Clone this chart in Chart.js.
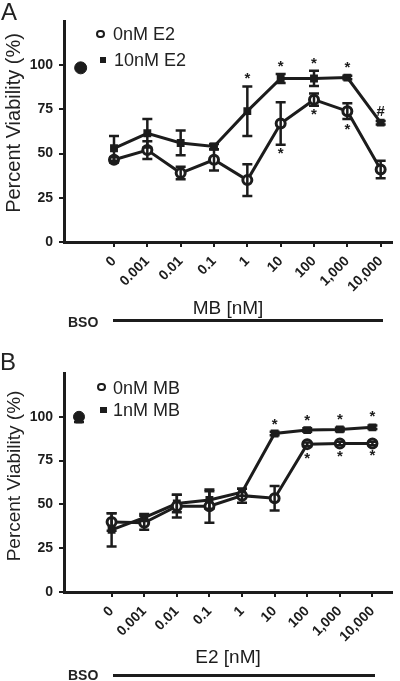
<!DOCTYPE html>
<html>
<head>
<meta charset="utf-8">
<script src="https://cdn.jsdelivr.net/npm/chart.js@4"></script>
<style>
  body { margin: 0; background: #fff; }
  #wrap { position: relative; width: 400px; height: 681px; font-family: "Liberation Sans", Arial, sans-serif; color: #222; }
  canvas { position: absolute; left: 0; }
  .lbl { position: absolute; white-space: nowrap; line-height: 1; }
  .ytitle { position: absolute; white-space: nowrap; line-height: 1; transform: translate(-50%, -50%) rotate(-90deg); }
  .dot { position: absolute; border: 2.5px solid #1c1c1c; border-radius: 50%; background: #fff; box-sizing: border-box; }
  .sq { position: absolute; background: #1c1c1c; }
  .bar { position: absolute; background: #1c1c1c; height: 3px; }
</style>
</head>
<body>
<div id="wrap">
  <canvas id="chartA" width="400" height="340" style="top:0"></canvas>
  <canvas id="chartB" width="400" height="341" style="top:340px"></canvas>

  <div class="lbl" style="left:1px;top:0px;font-size:24px">A</div>
  <div class="ytitle" style="left:13px;top:123px;font-size:20px">Percent Viability (%)</div>
  <div class="dot" style="left:96px;top:29.5px;width:8.5px;height:8.5px"></div>
  <div class="lbl" style="left:113px;top:25px;font-size:18px">0nM E2</div>
  <div class="sq" style="left:99.5px;top:56.5px;width:6.5px;height:6.5px"></div>
  <div class="lbl" style="left:114px;top:51px;font-size:18px">10nM E2</div>
  <div class="lbl" style="left:68px;top:315px;font-size:14px;font-weight:bold">BSO</div>
  <div class="bar" style="left:113px;top:319px;width:270px"></div>

  <div class="lbl" style="left:0px;top:350px;font-size:24px">B</div>
  <div class="ytitle" style="left:13px;top:476px;font-size:19px">Percent Viability (%)</div>
  <div class="dot" style="left:97px;top:382.5px;width:8.5px;height:8.5px"></div>
  <div class="lbl" style="left:113px;top:378.5px;font-size:18px">0nM MB</div>
  <div class="sq" style="left:100px;top:406.5px;width:6.5px;height:6.5px"></div>
  <div class="lbl" style="left:113px;top:400.5px;font-size:18px">1nM MB</div>
  <div class="lbl" style="left:68px;top:668px;font-size:14px;font-weight:bold">BSO</div>
  <div class="bar" style="left:113px;top:674px;width:262px"></div>
</div>

<script>
// doses on the x axis (same for both panels)
const doseLabels = ['0', '0.001', '0.01', '0.1', '1', '10', '100', '1,000', '10,000'];

// Panel A - MB dose response, +/- 10nM E2
const aNoE2 = [46.5, 52, 39, 46.5, 35, 67, 80.5, 74, 41];
const aNoE2Err = [1.5, 5, 3.5, 6, 9, 12, 3.5, 4.5, 5];
const aTenE2 = [53, 61.5, 56, 54, 74, 92.5, 92.5, 93, 67.5];
const aTenE2Err = [7, 8, 7, 1.5, 14, 2.5, 4.3, 1, 1];
const aBso = [98.5];
const aMarkX = [4, 5, 6, 7, 8, 5, 6, 7];
const aMarkY = [94, 100.6, 102.5, 100, 74.3, 51.2, 73.5, 64.8];
const aMarkText = ['*', '*', '*', '*', '#', '*', '*', '*'];

// Panel B - E2 dose response, +/- 1nM MB
const bNoMB = [40, 39.5, 49, 49, 55, 53.5, 84.4, 84.8, 84.8];
const bNoMBErr = [5, 4, 6.5, 9.5, 4, 7, 1, 1, 1];
const bOneMB = [35.5, 42.5, 50.5, 52.5, 57, 90.5, 92.4, 92.8, 94];
const bOneMBErr = [9.5, 2, 5, 5, 2, 1, 1, 1, 1];
const bBsoCircle = [100];
const bBsoSquare = [98.5];
const bMarkX = [5, 6, 7, 8, 6, 7, 8];
const bMarkY = [97.3, 99.6, 100.1, 101.5, 77.6, 78.5, 79.1];
const bMarkText = ['*', '*', '*', '*', '*', '*', '*'];

const ink = '#1c1c1c';
Chart.defaults.font.family = '"Liberation Sans", Arial, sans-serif';
Chart.defaults.color = ink;

// whiskers for datasets that carry an "errors" array
const errorBars = {
    id: 'errorBars',
    afterDatasetsDraw(chart) {
        const { ctx, scales: { x, y } } = chart;
        ctx.save();
        ctx.strokeStyle = ink;
        ctx.lineWidth = 2.5;
        chart.data.datasets.forEach(ds => {
            if (!ds.errors) return;
            ds.data.forEach((p, i) => {
                const e = ds.errors[i];
                const px = x.getPixelForValue(p.x);
                const top = y.getPixelForValue(p.y + e);
                const bot = y.getPixelForValue(p.y - e);
                ctx.beginPath();
                ctx.moveTo(px, top); ctx.lineTo(px, bot);
                ctx.moveTo(px - 5, top); ctx.lineTo(px + 5, top);
                ctx.moveTo(px - 5, bot); ctx.lineTo(px + 5, bot);
                ctx.stroke();
            });
        });
        ctx.restore();
    }
};

// significance marks (* and #)
const sigMarks = {
    id: 'sigMarks',
    afterDraw(chart, args, opts) {
        const { ctx, scales: { x, y } } = chart;
        ctx.save();
        ctx.fillStyle = ink;
        ctx.font = 'bold 15px "Liberation Sans", Arial, sans-serif';
        ctx.textAlign = 'center';
        ctx.textBaseline = 'alphabetic';
        opts.xs.forEach((v, i) => {
            const t = opts.texts[i];
            const m = ctx.measureText(t);
            const cy = y.getPixelForValue(opts.ys[i]);
            ctx.fillText(t, x.getPixelForValue(v), cy + (m.actualBoundingBoxAscent - m.actualBoundingBoxDescent) / 2);
        });
        ctx.restore();
    }
};

function points(vals) {
    return vals.map((v, i) => ({ x: i, y: v }));
}

function makePanel(id, p) {
    return new Chart(document.getElementById(id), {
        type: 'scatter',
        data: {
            datasets: [
                {
                    data: points(p.open),
                    errors: p.openErr,
                    showLine: true,
                    borderColor: ink,
                    borderWidth: 3,
                    pointStyle: 'circle',
                    pointRadius: 4.5,
                    pointBorderWidth: 3,
                    pointBorderColor: ink,
                    pointBackgroundColor: '#fff'
                },
                {
                    data: points(p.filled),
                    errors: p.filledErr,
                    showLine: true,
                    borderColor: ink,
                    borderWidth: 3,
                    pointStyle: 'rect',
                    pointRadius: 4.5,
                    pointBorderWidth: 1.5,
                    pointBorderColor: ink,
                    pointBackgroundColor: ink
                },
                ...p.bso
            ]
        },
        options: {
            responsive: false,
            animation: false,
            layout: { padding: { top: p.top, right: 8, left: 0, bottom: 0 } },
            plugins: {
                legend: { display: false },
                tooltip: { enabled: false },
                sigMarks: { xs: p.markX, ys: p.markY, texts: p.markText }
            },
            scales: {
                x: {
                    type: 'linear',
                    min: p.xMin,
                    max: p.xMax,
                    afterBuildTicks: s => { s.ticks = doseLabels.map((_, i) => ({ value: i })); },
                    afterFit: s => { s.height = p.xHeight; },
                    grid: { drawOnChartArea: false, drawTicks: true, tickLength: 5, color: ink, lineWidth: 2 },
                    border: { color: ink, width: 3 },
                    ticks: {
                        font: { size: 14, weight: 'bold' },
                        minRotation: 45,
                        maxRotation: 45,
                        padding: 6,
                        callback: v => doseLabels[v]
                    },
                    title: {
                        display: true,
                        text: p.xTitle,
                        font: { size: 19 },
                        padding: { top: 0, bottom: p.titlePad }
                    }
                },
                y: {
                    min: 0,
                    max: 125,
                    afterBuildTicks: s => { s.ticks = s.ticks.filter(t => t.value <= 100); },
                    afterFit: s => { s.width = 64; },
                    grid: { drawOnChartArea: false, drawTicks: true, tickLength: 5, color: ink, lineWidth: 2 },
                    border: { color: ink, width: 3 },
                    ticks: { stepSize: 25, font: { size: 14, weight: 'bold' }, padding: 6 }
                }
            }
        },
        plugins: [errorBars, sigMarks]
    });
}

makePanel('chartA', {
    open: aNoE2, openErr: aNoE2Err,
    filled: aTenE2, filledErr: aTenE2Err,
    bso: [{ data: [{ x: -1, y: aBso[0] }], pointRadius: 6, pointBackgroundColor: ink, pointBorderColor: ink }],
    markX: aMarkX, markY: aMarkY, markText: aMarkText,
    xMin: -1.5, xMax: 8.34, top: 21, xHeight: 98, xTitle: 'MB [nM]', titlePad: 20
});

makePanel('chartB', {
    open: bNoMB, openErr: bNoMBErr,
    filled: bOneMB, filledErr: bOneMBErr,
    bso: [
        { data: [{ x: -1, y: bBsoSquare[0] }], errors: [1.5], pointStyle: 'rect', pointRadius: 5, pointBackgroundColor: ink, pointBorderColor: ink },
        { data: [{ x: -1, y: bBsoCircle[0] }], pointRadius: 5.5, pointBackgroundColor: ink, pointBorderColor: ink }
    ],
    markX: bMarkX, markY: bMarkY, markText: bMarkText,
    xMin: -1.46, xMax: 8.6, top: 33, xHeight: 89, xTitle: 'E2 [nM]', titlePad: 12
});
</script>
</body>
</html>
